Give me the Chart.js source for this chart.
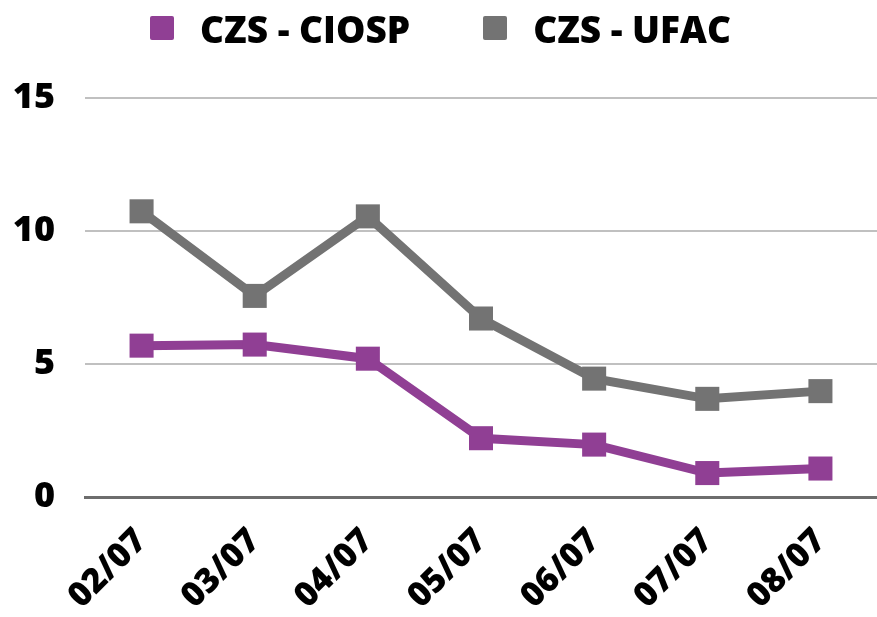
<!DOCTYPE html>
<html lang="pt">
<head>
    <meta charset="UTF-8">
    <title>CZS - CIOSP x CZS - UFAC</title>
    <script src="https://cdn.jsdelivr.net/npm/chart.js"></script>
    <style>
        html, body {
            margin: 0;
            padding: 0;
            background: #ffffff;
            overflow: hidden;
        }
        .chart-container {
            position: relative;
            width: 877px;
            height: 617px;
        }
        .chart-container canvas {
            display: block;
        }
        .legend {
            position: absolute;
            top: 0;
            left: 0;
            width: 877px;
            height: 56px;
            display: flex;
            justify-content: center;
            align-items: center;
            font-family: 'Open Sans', sans-serif;
            font-weight: 800;
            font-size: 37px;
            color: #000;
            padding-left: 4px;
            box-sizing: border-box;
        }
        .legend .item {
            display: flex;
            align-items: center;
        }
        .legend .item + .item {
            margin-left: 73px;
        }
        .legend .box {
            width: 24px;
            height: 24px;
            border-radius: 2px;
            margin-right: 26px;
        }
    </style>
</head>
<body>
    <div class="chart-container">
        <canvas id="lineChart"></canvas>
        <div class="legend" id="legend"></div>
    </div>

    <script>
        // Dados
        const labels = ['02/07', '03/07', '04/07', '05/07', '06/07', '07/07', '08/07'];
        const seriesNames = ['CZS - CIOSP', 'CZS - UFAC'];
        const ciospValues = [5.69, 5.73, 5.2, 2.21, 1.97, 0.9, 1.07];
        const ufacValues = [10.74, 7.56, 10.55, 6.71, 4.45, 3.69, 3.98];
        const yTicks = [0, 5, 10, 15];

        const purple = '#903f94';
        const gray = '#737373';
        const fontFamily = "'Open Sans', sans-serif";

        const ctx = document.getElementById('lineChart').getContext('2d');
        const chart = new Chart(ctx, {
            type: 'line',
            data: {
                labels: labels,
                datasets: [{
                    label: seriesNames[0],
                    data: ciospValues,
                    borderColor: purple,
                    backgroundColor: purple,
                    borderWidth: 9,
                    pointStyle: 'rect',
                    pointRadius: 17,
                    pointBorderWidth: 0,
                    tension: 0
                }, {
                    label: seriesNames[1],
                    data: ufacValues,
                    borderColor: gray,
                    backgroundColor: gray,
                    borderWidth: 9,
                    pointStyle: 'rect',
                    pointRadius: 17,
                    pointBorderWidth: 0,
                    tension: 0
                }]
            },
            options: {
                responsive: true,
                maintainAspectRatio: false,
                animation: false,
                layout: {
                    autoPadding: false,
                    padding: { left: 0, right: 0, top: 98, bottom: 0 }
                },
                plugins: {
                    legend: { display: false },
                    tooltip: { enabled: false }
                },
                scales: {
                    x: {
                        offset: true,
                        grid: { display: false },
                        border: { display: true, color: '#6d6d6d', width: 3 },
                        ticks: {
                            color: '#000000',
                            maxRotation: 45,
                            minRotation: 45,
                            padding: 16,
                            font: { family: fontFamily, size: 34, weight: '800' }
                        },
                        afterFit: function (axis) {
                            axis.height = 120;
                            axis.paddingLeft = 0;
                            axis.paddingRight = 0;
                        }
                    },
                    y: {
                        min: 0,
                        max: 15,
                        afterBuildTicks: function (axis) {
                            axis.ticks = yTicks.map(v => ({ value: v }));
                        },
                        grid: {
                            color: '#c0c0c0',
                            lineWidth: 2,
                            drawTicks: false
                        },
                        border: { display: false },
                        ticks: {
                            color: '#000000',
                            padding: 30,
                            font: { family: fontFamily, size: 36, weight: '800' }
                        },
                        afterFit: function (axis) {
                            axis.width = 85;
                            axis.paddingTop = 0;
                            axis.paddingBottom = 0;
                        }
                    }
                }
            }
        });

        // Legenda em HTML
        const legendEl = document.getElementById('legend');
        chart.data.datasets.forEach(ds => {
            const item = document.createElement('div');
            item.className = 'item';
            const box = document.createElement('span');
            box.className = 'box';
            box.style.background = ds.borderColor;
            const text = document.createElement('span');
            text.textContent = ds.label;
            item.appendChild(box);
            item.appendChild(text);
            legendEl.appendChild(item);
        });
    </script>
</body>
</html>
